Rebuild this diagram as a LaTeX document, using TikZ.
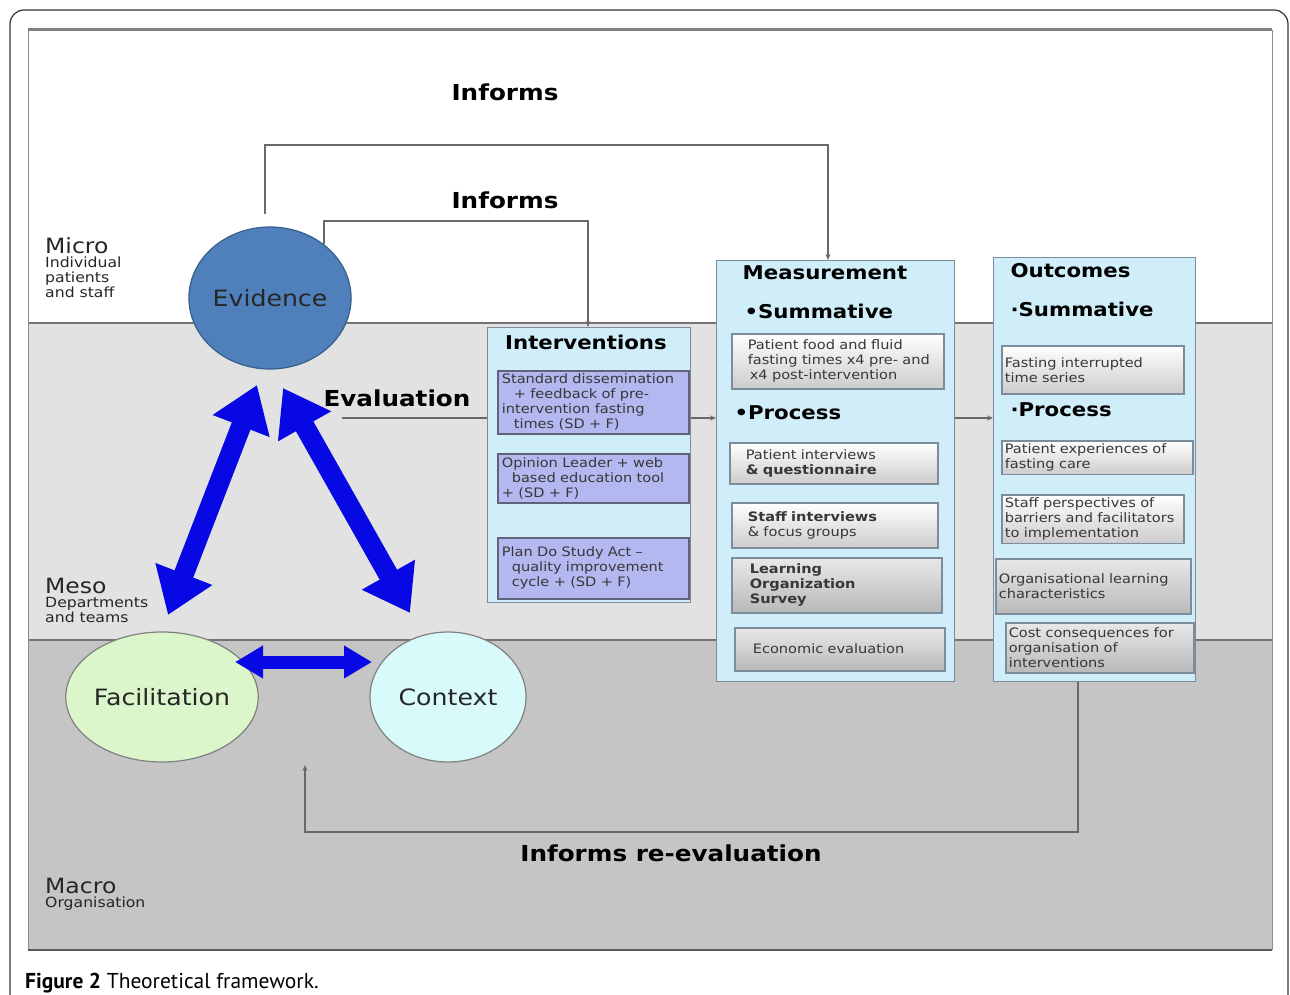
\documentclass[tikz,border=0pt]{standalone}
\usepackage{fontspec}
\setmainfont[FakeStretch=1.12]{DejaVu Sans}
\newfontfamily\capfont{PT Sans}
\usetikzlibrary{arrows.meta,shapes.geometric}
\definecolor{panelblue}{RGB}{208,238,250}
\definecolor{paneledge}{RGB}{125,140,155}
\definecolor{lav}{RGB}{180,184,240}
\definecolor{lavedge}{RGB}{95,98,120}
\definecolor{evblue}{RGB}{80,128,188}
\definecolor{evedge}{RGB}{55,95,140}
\definecolor{facgreen}{RGB}{218,246,202}
\definecolor{ctxcyan}{RGB}{216,250,250}
\definecolor{arrowblue}{RGB}{8,8,228}
\definecolor{midgrey}{RGB}{226,226,226}
\definecolor{lowgrey}{RGB}{197,197,197}
\definecolor{txt}{RGB}{55,55,55}
\definecolor{connc}{RGB}{105,105,105}
\begin{document}
\begin{tikzpicture}[x=1pt,y=-1pt,
  panel/.style={draw=paneledge, fill=panelblue, line width=1.3pt, anchor=north west, inner sep=0pt},
  subtext/.style={font=\fontsize{13}{15}\selectfont, text=txt, align=left},
  ibox/.style={subtext, draw=lavedge, fill=lav, line width=1.6pt, anchor=north west, inner sep=3pt},
  mbox/.style={subtext, draw=paneledge, top color=white, bottom color=gray!40, line width=1.6pt, anchor=north west, inner sep=3pt},
  dbox/.style={subtext, draw=paneledge, top color=gray!18, bottom color=gray!55, line width=1.6pt, anchor=north west, inner sep=3pt},
  head/.style={font=\bfseries\fontsize{19}{22}\selectfont, text=black},
  biglabel/.style={font=\bfseries\fontsize{22}{26}\selectfont, text=black},
  circ/.style={ellipse, draw, line width=1.2pt, font=\fontsize{22.5}{26}\selectfont, text=black!85, inner sep=0pt},
  lvl/.style={anchor=base west, font=\fontsize{21}{24}\selectfont, text=black!85, inner sep=0pt},
  lvlsub/.style={anchor=north west, font=\fontsize{14}{15}\selectfont, text=black!85, align=left, inner sep=0pt},
  conn/.style={connc, line width=1.4pt},
  tip/.style={-{Stealth[length=6pt,width=5pt]}},
  blockarrow/.style={arrowblue, line width=20pt, {Triangle[length=44pt,width=58pt]}-{Triangle[length=44pt,width=58pt]}},
  smallblock/.style={arrowblue, line width=13pt, {Triangle[length=28pt,width=31pt]}-{Triangle[length=28pt,width=31pt]}}
]
\useasboundingbox (0,0) rectangle (1290,995);
% outer frame
\draw[black!80, line width=1.2pt, rounded corners=14pt] (10,997) -- (10,10) -- (1288,10) -- (1288,997);
% bands
\fill[white] (28,30) rectangle (1272,323);
\fill[midgrey] (28,323) rectangle (1272,640);
\fill[lowgrey] (28,640) rectangle (1272,950);
\draw[black!55, line width=1.2pt] (28,323) -- (1272,323);
\draw[black!55, line width=1.2pt] (28,640) -- (1272,640);
\draw[black!45, line width=1pt] (28,30) -- (28,950);
\draw[black!45, line width=1pt] (1272,30) -- (1272,950);
\draw[black!50, line width=3pt] (28,30) -- (1272,30);
\draw[black!65, line width=2.5pt] (28,950) -- (1272,950);

% level labels
\node[lvl] (micro) at (45,253) {Micro};
\node[lvlsub] (microsub) at (45,257) {Individual\\patients\\and staff};
\node[lvl] (meso) at (45,593) {Meso};
\node[lvlsub] (mesosub) at (45,597) {Departments\\and teams};
\node[lvl] (macro) at (45,893) {Macro};
\node[lvlsub] (macrosub) at (45,897) {Organisation};

% circles
\node[circ, fill=evblue, draw=evedge, minimum width=160pt, minimum height=142pt] (ev) at (270,298) {Evidence};
\node[circ, fill=facgreen, draw=black!50, minimum width=160pt, minimum height=130pt] (fac) at (162,697) {Facilitation};
\node[circ, fill=ctxcyan, draw=black!50, minimum width=156pt, minimum height=130pt] (ctx) at (448,697) {Context};

% block arrows
\coordinate (la1) at (257,385);
\coordinate (la2) at (168,615);
\coordinate (ra1) at (283,388);
\coordinate (ra2) at (410,613);
\coordinate (ha1) at (235,662);
\coordinate (ha2) at (372,662);
\draw[blockarrow] (la1) -- (la2);
\draw[blockarrow] (ra1) -- (ra2);
\draw[smallblock] (ha1) -- (ha2);

% panels
\node[panel, minimum width=203pt, minimum height=275pt] (int) at (487,327) {};
\node[panel, minimum width=238pt, minimum height=421pt] (meas) at (716,260) {};
\node[panel, minimum width=202pt, minimum height=424pt] (out) at (993,257) {};

% interventions
\node[head] (inthead) at (586,342) {Interventions};
\node[ibox, minimum width=191pt, minimum height=63pt, text width=183pt] (i1) at (497,370)
  {Standard dissemination\\\hspace*{12pt}+ feedback of pre-\\intervention fasting\\\hspace*{12pt}times (SD + F)};
\node[ibox, minimum width=191pt, minimum height=49pt, text width=183pt] (i2) at (497,453)
  {Opinion Leader + web\\\hspace*{10pt}based education tool\\+ (SD + F)};
\node[ibox, minimum width=191pt, minimum height=61pt, text width=183pt] (i3) at (497,537)
  {Plan Do Study Act --\\\hspace*{10pt}quality improvement\\\hspace*{10pt}cycle + (SD + F)\\[4pt]};

% measurement
\node[head] (meashead) at (825,273) {Measurement};
\node[head, anchor=west] (msum) at (741,311) {•Summative};
\node[mbox, minimum width=212pt, minimum height=55pt, text width=204pt] (m1) at (731,333)
  {\hspace*{12pt}Patient food and fluid\\\hspace*{12pt}fasting times x4 pre- and\\\hspace*{14pt}x4 post-intervention};
\node[head, anchor=west] (mproc) at (731,413) {•Process};
\node[mbox, minimum width=208pt, minimum height=41pt, text width=200pt] (m2) at (729,442)
  {\hspace*{12pt}Patient interviews\\\hspace*{12pt}\textbf{\& questionnaire}};
\node[mbox, minimum width=206pt, minimum height=45pt, text width=198pt] (m3) at (731,502)
  {\hspace*{12pt}\textbf{Staff interviews}\\\hspace*{12pt}\& focus groups};
\node[dbox, minimum width=210pt, minimum height=55pt, text width=202pt] (m4) at (731,557)
  {\hspace*{14pt}\textbf{Learning}\\\hspace*{14pt}\textbf{Organization}\\\hspace*{14pt}\textbf{Survey}};
\node[dbox, minimum width=210pt, minimum height=43pt, text width=202pt] (m5) at (734,627)
  {\\[-6pt]\hspace*{14pt}Economic evaluation};

% outcomes
\node[head, anchor=west] (outhead) at (1007,271) {Outcomes};
\node[head, anchor=west] (osum) at (1007,309) {·Summative};
\node[mbox, minimum width=182pt, minimum height=48pt, text width=176pt] (o1) at (1001,345)
  {Fasting interrupted\\time series\\[6pt]};
\node[head, anchor=west] (oproc) at (1007,410) {·Process};
\node[mbox, minimum width=191pt, minimum height=33pt, text width=185pt] (o2) at (1001,440)
  {Patient experiences of\\fasting care};
\node[mbox, minimum width=182pt, minimum height=47pt, text width=176pt] (o3) at (1001,494)
  {Staff perspectives of\\barriers and facilitators\\to implementation};
\node[dbox, minimum width=195pt, minimum height=55pt, text width=189pt] (o4) at (995,558)
  {Organisational learning\\characteristics\\[14pt]};
\node[dbox, minimum width=188pt, minimum height=50pt, text width=182pt] (o5) at (1005,622)
  {Cost consequences for\\organisation of\\interventions};

% labels
\node[biglabel] (inf1) at (505,92) {Informs};
\node[biglabel] (inf2) at (505,200) {Informs};
\node[biglabel] (evl) at (397,398) {Evaluation};
\node[biglabel] (reev) at (671,853) {Informs re-evaluation};

% connectors
\coordinate (t1) at (265,145);
\coordinate (t2) at (828,145);
\draw[conn, tip] ([xshift=-5pt,yshift=12pt]ev.north) -- (t1) -- (t2) -- (t2 |- meas.north);
\coordinate (t3) at (588,221);
\draw[conn, tip] (ev.45) |- (t3) -- (t3 |- int.north);
\coordinate (e1) at (342,418);
\draw[conn] (e1) -- (e1 -| int.west);
\draw[conn, tip] (e1 -| int.east) -- (e1 -| meas.west);
\draw[conn, tip] (e1 -| meas.east) -- (e1 -| out.west);
\coordinate (r1) at (1078,832);
\coordinate (r2) at (305,832);
\coordinate (r3) at (305,765);
\draw[conn, tip] (r1 |- out.south) -- (r1) -- (r2) -- (r3);

% caption
\node[anchor=base west, font=\capfont\fontsize{21.5}{24}\selectfont, inner sep=0pt] (cap) at (25,988) {\textbf{Figure 2} Theoretical framework.};
\end{tikzpicture}
\end{document}
